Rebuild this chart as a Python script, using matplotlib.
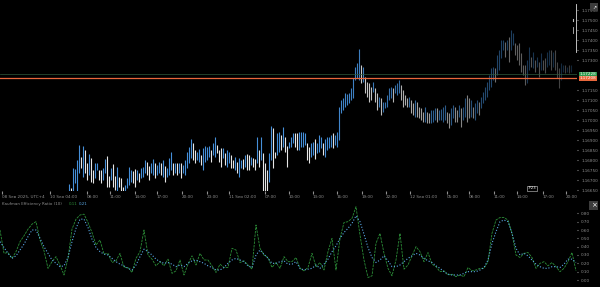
import numpy as np
import matplotlib
matplotlib.use("Agg")
import matplotlib.pyplot as plt
from matplotlib.patches import Rectangle
from matplotlib.lines import Line2D
import matplotlib.transforms as mtransforms

# price data: pips above BASE, one 15-min bar per slot
BASE = 1.16600
FIRST_SLOT = 34.5

high_pips = [
    8.0, 5.8, 15.8, 15.3, 20.0, 27.5, 21.7, 27.0, 25.0, 18.3,
    23.0, 20.8, 15.0, 18.3, 18.7, 15.0, 15.0, 15.8, 20.3, 22.0,
    12.0, 15.8, 18.0, 12.0, 16.7, 11.7, 10.8, 6.7, 7.5, 10.8,
    16.7, 15.0, 14.7, 15.3, 15.0, 13.7, 15.8, 16.7, 20.0, 19.2,
    17.0, 18.3, 20.3, 18.7, 17.5, 19.2, 18.3, 20.0, 17.0, 15.8,
    20.8, 24.2, 18.3, 18.3, 18.7, 18.3, 18.7, 17.5, 20.0, 24.2,
    26.7, 30.3, 28.3, 25.0, 24.2, 25.3, 22.5, 25.8, 27.0, 26.7,
    27.0, 25.0, 28.3, 31.3, 27.5, 25.0, 25.8, 25.8, 23.7, 25.0,
    24.2, 22.5, 20.0, 21.7, 19.2, 20.8, 20.0, 20.3, 22.5, 23.0,
    22.5, 21.7, 20.8, 20.3, 31.3, 25.0, 31.3, 23.7, 18.3, 15.0,
    23.3, 37.0, 35.8, 24.2, 33.7, 34.2, 32.5, 36.3, 31.7, 27.0,
    29.2, 31.7, 33.7, 33.7, 33.3, 34.2,
    34.2, 34.2, 33.7, 28.3,
    26.7, 28.3, 29.2, 30.3, 28.7, 32.5, 31.7, 28.7, 30.3, 31.7,
    31.3, 32.5, 33.3, 32.5, 34.2, 46.7, 50.0, 50.8, 53.3, 53.0,
    53.3, 55.8, 60.8, 66.7, 68.3, 75.3, 67.5, 66.7, 61.7, 59.2,
    58.3, 56.7, 59.2, 55.8, 53.3, 51.7, 50.8, 49.2, 49.2, 52.5,
    55.8, 56.3, 55.8, 57.5, 58.3, 60.0, 57.5, 55.0, 52.5, 50.8,
    51.7, 50.0, 48.3, 50.0, 49.2, 46.7, 45.8, 44.2, 46.7, 44.2,
    43.3, 45.0, 45.0, 45.8, 45.8, 45.0, 45.3, 46.7, 47.5, 44.2,
    43.3, 45.8, 47.5, 46.7, 45.0, 47.5, 45.8, 46.7, 50.8, 52.5,
    50.8, 50.0, 46.7, 48.3, 50.0, 49.2, 51.7, 54.2, 56.7, 59.2,
    62.5, 65.8, 66.7, 65.8, 72.5, 75.0, 80.0, 80.0, 79.2, 80.0,
    81.7, 85.0, 83.3, 78.3, 77.5, 78.3, 73.3, 67.5, 67.5, 70.0,
    76.7, 71.7, 74.2, 70.0, 71.7, 69.2, 73.3, 70.0, 70.8, 74.2,
    75.0, 75.0, 74.2, 75.0, 69.2, 65.8, 68.3, 67.5, 67.5, 66.7,
    67.5, 67.5,
]
low_pips = [
    4.2, 4.2, 4.2, 8.7, 4.2, 13.3, 15.8, 11.7, 13.3, 10.0,
    12.5, 9.2, 8.3, 10.8, 15.0, 10.0, 8.3, 10.0, 13.3, 6.7,
    6.7, 10.0, 6.7, 5.0, 4.2, 6.7, 4.2, 4.2, 4.2, 5.8,
    7.5, 9.2, 8.3, 6.7, 10.0, 9.2, 10.8, 11.7, 13.3, 12.5,
    10.0, 13.3, 12.5, 10.8, 12.5, 13.3, 12.5, 11.7, 9.2, 11.7,
    12.5, 15.0, 12.5, 13.3, 12.5, 13.3, 10.8, 13.3, 12.5, 15.8,
    18.3, 20.8, 20.0, 18.3, 20.0, 19.2, 17.5, 15.0, 19.2, 20.0,
    21.7, 19.2, 22.5, 21.7, 23.3, 19.2, 16.7, 20.8, 17.5, 16.7,
    18.3, 15.8, 15.8, 15.0, 13.3, 11.7, 15.8, 15.3, 16.7, 15.0,
    15.0, 17.5, 16.7, 15.0, 18.3, 16.7, 20.0, 2.0, 2.0, 3.0,
    9.2, 20.0, 15.8, 20.8, 22.5, 24.2, 25.0, 26.7, 24.2, 16.7,
    25.8, 26.7, 28.3, 26.7, 25.0, 25.0,
    26.7, 26.7, 27.5, 20.0,
    18.7, 21.7, 22.5, 20.3, 23.3, 24.2, 25.8, 22.5, 21.7, 25.0,
    25.8, 26.7, 25.8, 27.5, 26.7, 30.0, 43.3, 45.0, 46.7, 47.5,
    48.3, 50.0, 50.8, 60.0, 60.8, 60.0, 58.3, 59.2, 53.3, 51.7,
    49.2, 50.0, 54.2, 49.2, 45.0, 46.7, 42.5, 44.2, 45.8, 46.7,
    50.0, 50.8, 49.2, 53.3, 52.5, 53.3, 50.0, 46.7, 47.5, 46.7,
    46.7, 43.3, 42.5, 41.7, 41.7, 40.8, 40.0, 39.2, 39.2, 38.3,
    38.3, 38.3, 39.2, 40.0, 39.2, 40.0, 40.0, 39.2, 40.0, 38.3,
    35.8, 37.5, 40.8, 39.2, 39.2, 41.7, 36.7, 40.0, 41.7, 39.2,
    40.8, 41.7, 40.8, 40.0, 43.3, 42.5, 45.8, 48.3, 50.0, 51.7,
    55.0, 56.7, 60.0, 59.2, 62.5, 65.0, 70.8, 75.0, 71.7, 75.0,
    69.2, 75.0, 77.5, 72.5, 70.0, 67.5, 64.2, 62.5, 57.5, 58.3,
    65.0, 66.7, 65.8, 64.2, 66.7, 61.7, 65.0, 65.0, 63.3, 66.7,
    67.5, 65.0, 66.7, 65.0, 60.8, 55.8, 60.0, 64.2, 63.3, 64.2,
    63.3, 64.2,
]

last_bid_pips = 60.8
last_ask_pips = 62.8

# Kaufman efficiency ratio, sampled every 2 slots
er_raw = [
    0.60, 0.32, 0.33, 0.26, 0.34, 0.46, 0.53, 0.61, 0.67, 0.70,
    0.48, 0.35, 0.14, 0.22, 0.28, 0.18, 0.06, 0.26, 0.61, 0.73,
    0.78, 0.79, 0.69, 0.57, 0.42, 0.48, 0.31, 0.32, 0.21, 0.23,
    0.32, 0.15, 0.15, 0.09, 0.26, 0.34, 0.60, 0.30, 0.25, 0.17,
    0.22, 0.17, 0.25, 0.08, 0.11, 0.24, 0.06, 0.19, 0.29, 0.18,
    0.32, 0.24, 0.24, 0.17, 0.09, 0.19, 0.15, 0.15, 0.38, 0.36,
    0.21, 0.23, 0.18, 0.13, 0.66, 0.38, 0.30, 0.27, 0.15, 0.21,
    0.14, 0.28, 0.22, 0.22, 0.27,
    0.14, 0.11, 0.15, 0.32, 0.16, 0.21, 0.12, 0.34, 0.50, 0.12,
    0.50, 0.69, 0.70, 0.74, 0.88, 0.54, 0.24, 0.03, 0.05, 0.44,
    0.56, 0.32, 0.14, 0.05, 0.24, 0.56, 0.13, 0.18, 0.29, 0.40,
    0.34, 0.22, 0.33, 0.19, 0.16, 0.10, 0.11, 0.06, 0.07, 0.04,
    0.06, 0.04, 0.15, 0.11, 0.12, 0.14, 0.14, 0.22, 0.56, 0.72,
    0.75, 0.75, 0.72, 0.56, 0.30, 0.27, 0.32, 0.33, 0.27, 0.14,
    0.20, 0.22, 0.17, 0.21, 0.16, 0.10, 0.14, 0.22, 0.33, 0.11,
]
er_signal = [
    0.46, 0.39, 0.32, 0.26, 0.29, 0.36, 0.43, 0.52, 0.60, 0.60,
    0.50, 0.40, 0.32, 0.24, 0.20, 0.16, 0.17, 0.27, 0.46, 0.62,
    0.73, 0.73, 0.63, 0.49, 0.39, 0.34, 0.31, 0.30, 0.26, 0.22,
    0.19, 0.17, 0.14, 0.12, 0.18, 0.28, 0.37, 0.34, 0.30, 0.25,
    0.22, 0.20, 0.21, 0.19, 0.16, 0.18, 0.16, 0.20, 0.23, 0.24,
    0.22, 0.20, 0.17, 0.15, 0.12, 0.12, 0.15, 0.20, 0.24, 0.26,
    0.24, 0.22, 0.17, 0.15, 0.30, 0.36, 0.31, 0.26, 0.20, 0.20,
    0.22, 0.23, 0.19, 0.19, 0.22,
    0.14, 0.12, 0.13, 0.14, 0.18, 0.14, 0.19, 0.25, 0.34, 0.41,
    0.50, 0.57, 0.62, 0.68, 0.77, 0.70, 0.55, 0.39, 0.27, 0.21,
    0.24, 0.29, 0.23, 0.16, 0.16, 0.18, 0.22, 0.26, 0.29, 0.32,
    0.30, 0.26, 0.23, 0.21, 0.17, 0.14, 0.10, 0.07, 0.06, 0.06,
    0.06, 0.08, 0.10, 0.10, 0.10, 0.12, 0.15, 0.24, 0.44, 0.58,
    0.70, 0.72, 0.70, 0.56, 0.38, 0.30, 0.32, 0.29, 0.24, 0.19,
    0.16, 0.14, 0.14, 0.16, 0.16, 0.15, 0.19, 0.25, 0.25, 0.21,
]

tick_slots = [1, 25, 43.5, 55, 67.5, 78.5, 91, 103.5, 114.5, 132.5, 144.5,
              156.5, 168.5, 181, 193, 205, 223.5, 234.5, 247, 258.5, 271.5, 283]
tick_labels = ["08 Sep 2025, UTC+4", "10 Sep 04:00", "08:00", "11:00", "14:00",
               "17:00", "20:00", "23:00", "11 Sep 02:00", "07:00", "10:00",
               "13:00", "16:00", "19:00", "22:00", "12 Sep 01:00", "05:00",
               "08:00", "11:00", "14:00", "17:00", "20:00"]

W, H = 600, 287
BG = "black"
GREY = "#8f8f8f"
FS = 3.0

fig = plt.figure(figsize=(W / 100, H / 100), dpi=100, facecolor=BG)
ax = fig.add_axes([0, 1 - 191 / H, 577 / W, 191 / H], facecolor=BG)
axi = fig.add_axes([0, 0, 577 / W, 89 / H], facecolor=BG)

# --- price bars (older bars bright, later ones fade out)
highs = BASE + np.array(high_pips) / 1e4
lows = BASE + np.array(low_pips) / 1e4
mids = (highs + lows) / 2
up = np.concatenate([[True], np.diff(mids) >= 0])
n = len(highs)
xs = FIRST_SLOT + np.arange(n)
fade = np.clip(1.0 - (np.arange(n) - 125) / (n - 125) * 0.75, 0.25, 1.0)
cols = []
for u, a in zip(up, fade):
    base = np.array([0.27, 0.56, 0.85]) if u else np.array([0.90, 0.90, 0.90])
    cols.append(tuple(base * a))
ax.vlines(xs, lows, highs, colors=cols, linewidth=0.8)

bid = BASE + last_bid_pips / 1e4
ask = BASE + last_ask_pips / 1e4
ax.axhline(ask, color="#2f5a3c", lw=0.5)
ax.axhline(bid, color="#e8673c", lw=0.9)

ax.set_xlim(0, 288.5)
ax.set_ylim(BASE + 4.5 / 1e4, BASE + 100 / 1e4)
ax.yaxis.tick_right()
yp = [p for p in range(5, 100, 5) if abs(p - last_bid_pips) > 3.5 and abs(p - last_ask_pips) > 3.5]
yt = BASE + np.array(yp) / 1e4
ax.set_yticks(yt)
ax.set_yticklabels(["%.5f" % v for v in yt])
ax.tick_params(axis="y", colors=GREY, labelsize=FS, length=1, pad=2)
ax.set_xticks(tick_slots)
ax.set_xticklabels(tick_labels)
ax.tick_params(axis="x", colors=GREY, labelsize=FS, length=2, pad=1)
for lab in ax.get_xticklabels():
    lab.set_ha("left")
for s in ax.spines.values():
    s.set_visible(False)

# price tags on the right axis
tr = mtransforms.blended_transform_factory(ax.transAxes, ax.transData)
ax.text(1.005, ask, "%.5f" % ask, transform=tr, fontsize=FS, color="white",
        va="center", ha="left", clip_on=False,
        bbox=dict(fc="#2e9a4e", ec="none", pad=0.5))
ax.text(1.005, bid, "%.5f" % bid, transform=tr, fontsize=FS, color="white",
        va="center", ha="left", clip_on=False,
        bbox=dict(fc="#e8673c", ec="none", pad=0.5))

# small "realtime" marker near the axis
ax.text(266, BASE + 5.8 / 1e4, "7/23", fontsize=2.8, color="white", ha="center",
        va="center", bbox=dict(fc="none", ec="#cccccc", lw=0.4, pad=0.5))

# --- indicator pane
ix = np.arange(len(er_raw)) * 2
axi.plot(ix, er_raw, color="#2c8f38", lw=0.6, ls=(0, (3, 1.2)))
axi.plot(np.arange(len(er_signal)) * 2, er_signal, color="#5aa8e6", lw=0.8, ls=":")
axi.set_xlim(0, 288.5)
axi.set_ylim(-0.084, 0.984)
axi.yaxis.tick_right()
it = np.arange(0, 0.81, 0.1)
axi.set_yticks(it)
axi.set_yticklabels(["%.2f" % v for v in it])
axi.tick_params(axis="y", colors=GREY, labelsize=FS, length=1, pad=2)
axi.set_xticks([])
for s in axi.spines.values():
    s.set_visible(False)

fig.text(2 / W, 1 - 204 / H, "Kaufman Efficiency Ratio (10)", color=GREY,
         fontsize=2.9, va="center")
fig.text(69 / W, 1 - 204 / H, "%.2f" % er_raw[-1], color="#2c8f38", fontsize=2.9, va="center")
fig.text(79 / W, 1 - 204 / H, "%.2f" % er_signal[-1], color="#5aa8e6", fontsize=2.9, va="center")

# chart controls on the right
fig.add_artist(Line2D([576 / W, 576 / W], [1 - 4 / H, 1 - 52 / H], color="#dddddd", lw=0.6))
fig.add_artist(Line2D([573 / W, 573 / W], [1 - 27 / H, 1 - 33 / H], color="#bbbbbb", lw=0.6))
fig.add_artist(Line2D([573 / W, 573 / W], [1 - 19 / H, 1 - 21 / H], color="#bbbbbb", lw=0.8))
fig.patches.append(Rectangle((590 / W, 1 - 11 / H), 8 / W, 8 / H, transform=fig.transFigure,
                             fc="#3c3c3c", ec="none", zorder=5))
fig.text(594 / W, 1 - 7 / H, "\u2197", color="white", fontsize=3.5, ha="center", va="center", zorder=6)
fig.patches.append(Rectangle((589 / W, 1 - 210 / H), 9 / W, 9 / H, transform=fig.transFigure,
                             fc="#3c3c3c", ec="none"))
fig.text(593.5 / W, 1 - 205.5 / H, "\u00d7", color="white", fontsize=5, ha="center", va="center")

fig.savefig("out.png", dpi=100, facecolor=BG)
